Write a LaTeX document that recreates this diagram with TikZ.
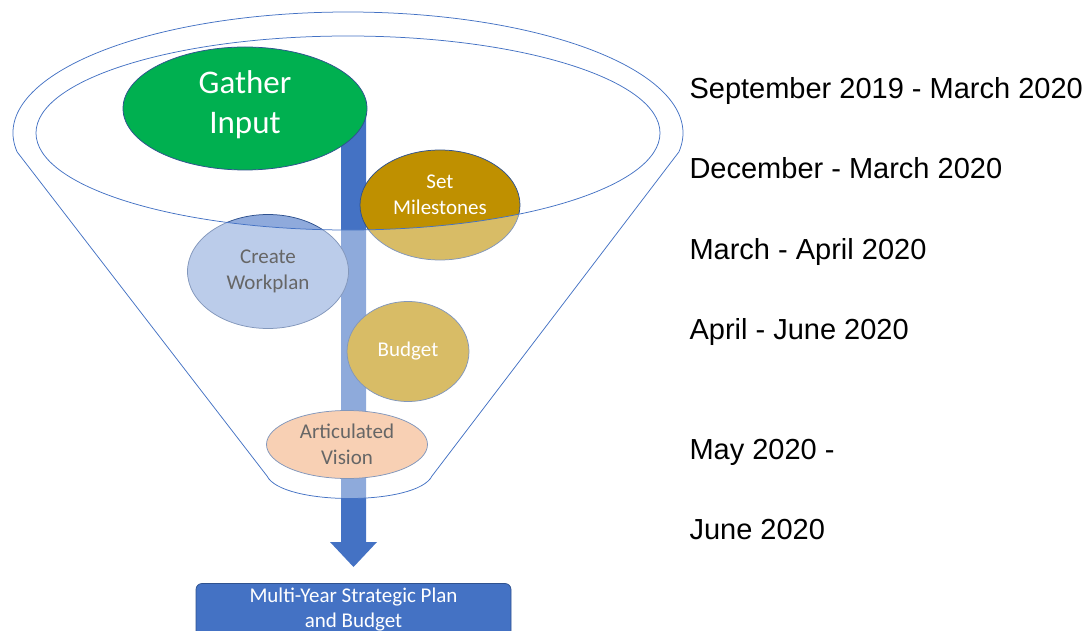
\documentclass[tikz,border=0pt]{standalone}
\usepackage{fontspec}
\setmainfont{Liberation Sans}
\newfontfamily\calibri{Carlito}
\usetikzlibrary{shapes.geometric}
\definecolor{accent}{HTML}{4472C4}
\definecolor{accentdark}{HTML}{2F528F}
\definecolor{leaf}{HTML}{00B050}
\definecolor{gold}{HTML}{BF9000}
\definecolor{paleblue}{HTML}{8FAADC}
\definecolor{peach}{HTML}{F4B183}

\begin{document}
\begin{tikzpicture}[x=1pt, y=-1pt,
    blob/.style={ellipse, draw=accentdark, line width=0.75pt, inner sep=0pt, align=center,
      font=\calibri\fontsize{21}{26}\selectfont},
    date/.style={anchor=base west, font=\fontsize{29}{35}\selectfont}]
  \useasboundingbox (0,0) rectangle (1092,631);
  \clip (0,0) rectangle (1092,631);
  \coordinate (C) at (348,133);
  \coordinate (L) at (267,476);
  \coordinate (R) at (432,476);
  \fill[accent] (341,100) -- (366,100) -- (366,542) -- (377,542) -- (353.5,567) -- (330,542) -- (341,542) -- cycle;
  \node[blob, fill=paleblue, minimum width=161pt, minimum height=114pt] (workplan) at (268,271.5) {Create\\Workplan};
  \node[blob, fill=gold, text=white, minimum width=160pt, minimum height=110pt, text depth=20pt] (milestones) at (440,205) {Set\\Milestones};
  \node[blob, fill=gold, text=white, minimum width=122pt, minimum height=100pt] (budget) at (408,351.5) {Budget};
  \node[blob, fill=peach, minimum width=161pt, minimum height=68pt] (vision) at (347,444.5) {Articulated\\Vision};
  \path[draw=accent, line width=0.75pt, fill=white, fill opacity=0.4, even odd rule]
    (C) ++(171:335 and 121) arc[start angle=171, end angle=369, x radius=335, y radius=121]
    -- (R) .. controls (417,506) and (282,506) .. (L) -- cycle
    (C) ellipse[x radius=312, y radius=97];
  \node[blob, fill=leaf, text=white, minimum width=244pt, minimum height=123pt, text depth=13pt,
    font=\calibri\fontsize{33}{40}\selectfont] (gather) at (245,108.5) {Gather\\Input};
  \node[draw=accentdark, fill=accent, text=white, rounded corners=6pt, line width=0.75pt,
    minimum width=315pt, minimum height=53pt, align=center,
    font=\calibri\fontsize{21}{25}\selectfont] (plan) at (353.5,610) {Multi-Year Strategic Plan\\and Budget};
  \node[date] (d1) at (686,99) {September 2019 - March 2020};
  \node[date] (d2) at (686,179) {December - March 2020};
  \node[date] (d3) at (686,259) {March - April 2020};
  \node[date] (d4) at (686,339) {April - June 2020};
  \node[date] (d5) at (686,459) {May 2020 -};
  \node[date] (d6) at (686,539) {June 2020};
\end{tikzpicture}
\end{document}
